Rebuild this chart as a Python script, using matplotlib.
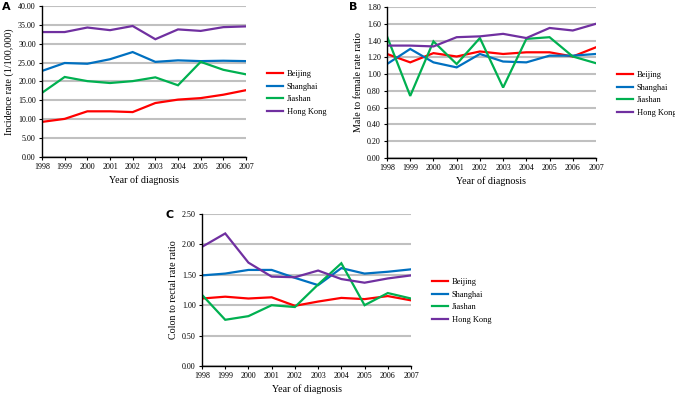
import numpy as np
import matplotlib
matplotlib.use("Agg")
import matplotlib.pyplot as plt
from matplotlib.lines import Line2D

plt.rcParams["font.family"] = ["Liberation Serif", "DejaVu Serif"]

years = np.arange(1998, 2008)
regions = ["Beijing", "Shanghai", "Jiashan", "Hong Kong"]
colors = ["#FF0000", "#0070C0", "#00B050", "#7030A0"]

# A - incidence rate (1/100,000)
inc_beijing = [9.3, 10.1, 12.1, 12.1, 11.9, 14.3, 15.2, 15.6, 16.5, 17.7]
inc_shanghai = [22.8, 24.9, 24.7, 25.9, 27.8, 25.2, 25.6, 25.4, 25.5, 25.4]
inc_jiashan = [17.0, 21.2, 20.1, 19.6, 20.1, 21.1, 19.0, 25.2, 23.1, 21.9]
inc_hongkong = [33.1, 33.1, 34.3, 33.6, 34.7, 31.2, 33.8, 33.4, 34.4, 34.6]

# B - male to female rate ratio
mf_beijing = [1.24, 1.14, 1.25, 1.21, 1.27, 1.24, 1.26, 1.26, 1.21, 1.32]
mf_shanghai = [1.12, 1.30, 1.14, 1.08, 1.24, 1.15, 1.14, 1.22, 1.22, 1.24]
mf_jiashan = [1.45, 0.74, 1.39, 1.12, 1.43, 0.84, 1.42, 1.44, 1.21, 1.13]
mf_hongkong = [1.34, 1.34, 1.33, 1.44, 1.45, 1.48, 1.43, 1.55, 1.52, 1.60]

# C - colon to rectal rate ratio
cr_beijing = [1.11, 1.14, 1.11, 1.13, 0.99, 1.06, 1.12, 1.10, 1.15, 1.08]
cr_shanghai = [1.49, 1.52, 1.58, 1.58, 1.45, 1.33, 1.61, 1.52, 1.55, 1.59]
cr_jiashan = [1.17, 0.76, 0.82, 1.00, 0.97, 1.34, 1.69, 1.00, 1.20, 1.11]
cr_hongkong = [1.96, 2.18, 1.70, 1.47, 1.46, 1.57, 1.43, 1.37, 1.44, 1.49]

W, H = 675, 396
fig = plt.figure(figsize=(W / 100, H / 100), dpi=100)


def px_axes(left, top, right, bottom):
    return fig.add_axes([left / W, 1 - bottom / H, (right - left) / W, (bottom - top) / H])


def panel(ax, series, ymax, ystep, ylabel, letter, letter_xy, leg_xy):
    for s, c in zip(series, colors):
        ax.plot(years, s, color=c, lw=1.6, solid_joinstyle="miter")
    ax.set_xlim(1998, 2007)
    ax.set_ylim(0, ymax)
    yt = np.arange(0, ymax + ystep / 2, ystep)
    ax.set_yticks(yt)
    ax.set_yticklabels([f"{v:.2f}" for v in yt])
    ax.set_xticks(years)
    ax.tick_params(labelsize=5.8, length=2.5, width=0.8, pad=2)
    ax.grid(axis="y", color="#C0C0C0", lw=1.5)
    ax.set_axisbelow(True)
    for sp in ["top", "right"]:
        ax.spines[sp].set_visible(False)
    ax.spines["left"].set_linewidth(1.0)
    ax.spines["bottom"].set_linewidth(1.0)
    ax.set_xlabel("Year of diagnosis", fontsize=7.2, labelpad=3)
    ax.set_ylabel(ylabel, fontsize=7.2, labelpad=3)
    fig.text(letter_xy[0] / W, 1 - letter_xy[1] / H, letter, family="DejaVu Sans",
             fontweight="bold", fontsize=8, va="top", ha="left")
    handles = [Line2D([], [], color=c, lw=1.6) for c in colors]
    fig.legend(handles, regions, loc="upper left",
               bbox_to_anchor=(leg_xy[0] / W, 1 - leg_xy[1] / H),
               frameon=False, fontsize=6, handlelength=1.9, handletextpad=0.45,
               labelspacing=0.55, borderpad=0, borderaxespad=0)


axA = px_axes(42, 6, 246, 157)
panel(axA, [inc_beijing, inc_shanghai, inc_jiashan, inc_hongkong], 40, 5,
      "Incidence rate (1/100,000)", "A", (2, 2), (267, 70))

axB = px_axes(387, 7, 596, 158)
panel(axB, [mf_beijing, mf_shanghai, mf_jiashan, mf_hongkong], 1.8, 0.2,
      "Male to female rate ratio", "B", (349, 2), (617, 71))

axC = px_axes(202, 214, 411, 366)
panel(axC, [cr_beijing, cr_shanghai, cr_jiashan, cr_hongkong], 2.5, 0.5,
      "Colon to rectal rate ratio", "C", (166, 210), (432, 278))

fig.savefig("out.png", dpi=100)
